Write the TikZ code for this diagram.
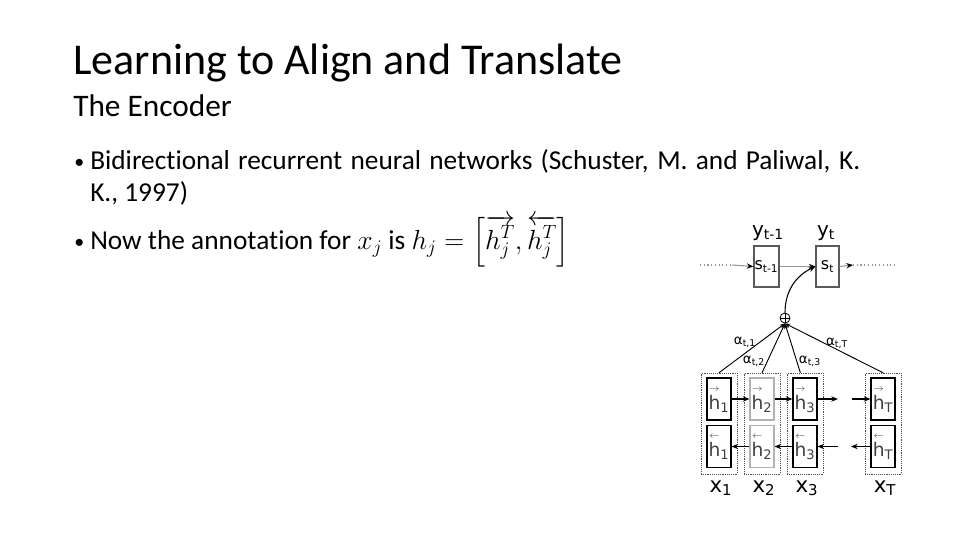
\documentclass[tikz,border=0pt]{standalone}
\usepackage{fontspec}
\usepackage{amsmath}
\usepackage{tikz}
\usetikzlibrary{arrows.meta,positioning}
\setmainfont{Carlito}[Ligatures=NoCommon]
\newfontfamily\diagfont{DejaVu Sans}
\definecolor{boxgray}{RGB}{90,90,90}
\definecolor{linkgray}{RGB}{150,150,150}

\newcommand{\fwh}[1]{$\overset{\scriptscriptstyle\rightarrow}{\text{h}}$\textsubscript{#1}}
\newcommand{\bwh}[1]{$\overset{\scriptscriptstyle\leftarrow}{\text{h}}$\textsubscript{#1}}

\begin{document}
\begin{tikzpicture}[x=0.75pt,y=-0.75pt,
        heading/.style={anchor=base west, inner sep=0pt, font=\fontsize{33}{38}\selectfont},
        subheading/.style={anchor=base west, inner sep=0pt, font=\fontsize{23.5}{28}\selectfont},
        bullettext/.style={anchor=base west, inner sep=0pt, font=\fontsize{20.5}{24}\selectfont},
        bulletdot/.style={anchor=base west, inner sep=0pt, font=\fontsize{15}{18}\selectfont},
        statebox/.style={draw=boxgray, line width=0.8pt, minimum width=18.75pt, minimum height=30.75pt, inner sep=0pt, font=\diagfont\fontsize{12}{13}\selectfont},
        hbox/.style={draw=black, line width=0.8pt, minimum width=18pt, minimum height=31.5pt, inner sep=0pt, text=black!75, font=\diagfont\fontsize{14}{15}\selectfont},
        colbox/.style={draw=black!70, densely dotted, minimum width=27pt, minimum height=75.75pt, inner sep=0pt},
        ylabel/.style={font=\diagfont\fontsize{15}{16}\selectfont},
        xlabel/.style={font=\diagfont\fontsize{16}{17}\selectfont},
        alabel/.style={font=\diagfont\fontsize{10}{11}\selectfont, inner sep=0pt},
        sumnode/.style={circle, draw=black, line width=0.6pt, minimum size=7.5pt, inner sep=0pt,
            path picture={\draw[line width=0.6pt] (path picture bounding box.north) -- (path picture bounding box.south)
                (path picture bounding box.west) -- (path picture bounding box.east);}},
        recur/.style={linkgray, line width=0.8pt, -{Stealth[black,length=5pt,width=4pt]}},
        chain/.style={black, line width=1pt, -{Stealth[length=5pt,width=4pt]}},
        attn/.style={black, line width=0.7pt, -{Stealth[length=4pt,width=3pt]}}
    ]
        \useasboundingbox (0,0) rectangle (960,540);

        \node[heading] (title) at (73,74) {Learning to Align and Translate};
        \node[subheading] (subtitle) at (73,116) {The Encoder};

        \node[bulletdot] (dot1) at (74,168) {\textbullet};
        \node[bullettext] (b1) at (90,169) {\makebox[577.5pt][s]{Bidirectional recurrent neural networks (Schuster, M. and Paliwal, K.}};
        \node[bullettext] (b1b) at (90,201) {K., 1997)};
        \node[bulletdot] (dot2) at (74,248) {\textbullet};
        \node[bullettext] (b2) at (90,249) {Now the annotation for $x_j$ is $h_j=\left[\overrightarrow{h_j^T},\overleftarrow{h_j^T}\right]$};

        % decoder states
        \node[statebox] (sprev) at (766.5,266.5) {s\textsubscript{t-1}};
        \node[statebox, minimum width=17.25pt] (scur) at (827.5,266.5) {s\textsubscript{t}};
        \node[ylabel] (yprev) at (768,233) {y\textsubscript{t-1}};
        \node[ylabel] (ycur) at (826,233) {y\textsubscript{t}};
        \node[sumnode] (sum) at (785,318) {};

        \coordinate (lin) at (700,265);
        \coordinate (lmid) at (732,265);
        \coordinate (rmid) at (853,265);
        \coordinate (rout) at (897,265);
        \draw[linkgray, dotted, line width=0.8pt] (lin) -- (lmid);
        \draw[recur] (lmid) -- (sprev.west);
        \draw[recur] (sprev.east) -- (scur.west);
        \draw[recur] (scur.east) -- (rmid);
        \draw[linkgray, dotted, line width=0.8pt] (rmid) -- (rout);
        \draw[black, line width=0.8pt, -{Stealth[length=5pt,width=4pt]}] (sum.north) to[out=90, in=205] (scur.west);

        % encoder columns
        \node[colbox] (col1) at (719,423.5) {};
        \node[hbox] (fh1) at (719,399) {\fwh{1}};
        \node[hbox] (bh1) at (719,446.5) {\bwh{1}};
        \node[xlabel] (x1) at (721,488) {x\textsubscript{1}};

        \node[colbox] (col2) at (762,423.5) {};
        \node[hbox, draw=black!30] (fh2) at (762,399) {\fwh{2}};
        \node[hbox, draw=black!30] (bh2) at (762,446.5) {\bwh{2}};
        \node[xlabel] (x2) at (764,488) {x\textsubscript{2}};

        \node[colbox] (col3) at (805,423.5) {};
        \node[hbox] (fh3) at (805,399) {\fwh{3}};
        \node[hbox] (bh3) at (805,446.5) {\bwh{3}};
        \node[xlabel] (x3) at (807,488) {x\textsubscript{3}};

        \node[colbox] (colT) at (883,423.5) {};
        \node[hbox] (fhT) at (883,399) {\fwh{T}};
        \node[hbox] (bhT) at (883,446.5) {\bwh{T}};
        \node[xlabel] (xT) at (885,488) {x\textsubscript{T}};

        \coordinate (fgapL) at (838,399);
        \coordinate (fgapR) at (852,399);
        \coordinate (bgapL) at (838,446.5);
        \coordinate (bgapR) at (851,446.5);
        \draw[chain] (fh1.east) -- (fh2.west);
        \draw[chain] (fh2.east) -- (fh3.west);
        \draw[chain] (fh3.east) -- (fgapL);
        \draw[chain] (fgapR) -- (fhT.west);
        \draw[chain] (bh2.west) -- (bh1.east);
        \draw[chain] (bh3.west) -- (bh2.east);
        \draw[chain] (bgapL) -- (bh3.east);
        \draw[chain] (bhT.west) -- (bgapR);

        % attention weights
        \draw[attn] (col1.north) -- (sum.south);
        \draw[attn] (col2.north) -- (sum.south);
        \draw[attn] ([xshift=-3.5pt]col3.north) -- (sum.south);
        \draw[attn] (colT.north) -- (sum.south);
        \node[alabel] (a1) at (745,342) {α\textsubscript{t,1}};
        \node[alabel] (a2) at (754,361) {α\textsubscript{t,2}};
        \node[alabel] (a3) at (810,361) {α\textsubscript{t,3}};
        \node[alabel] (aT) at (837,343) {α\textsubscript{t,T}};
    \end{tikzpicture}
\end{document}
